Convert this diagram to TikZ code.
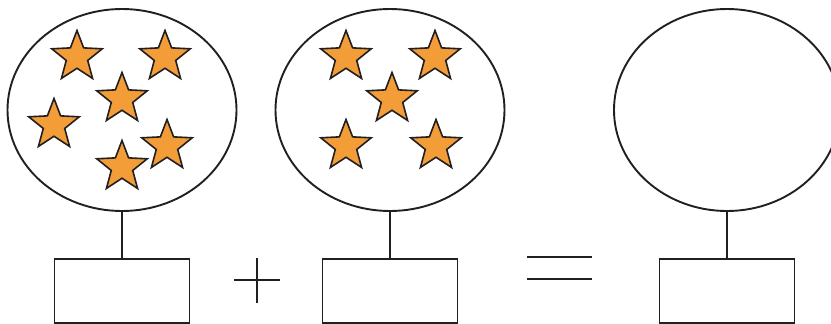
\documentclass[tikz,border=0pt]{standalone}
\usepackage{xcolor}
\usepackage{tikz}
\usetikzlibrary{shapes.geometric,positioning}
\definecolor{starfill}{HTML}{F29D38}
\definecolor{inkline}{HTML}{231F20}

\begin{document}
\begin{tikzpicture}[
  x=1pt,y=-1pt,
  bag/.style={draw=inkline,line width=1.9pt,ellipse,inner sep=0pt,
              minimum width=229pt,minimum height=202pt},
  tag/.style={draw=inkline,line width=1.9pt,inner sep=0pt,
              minimum width=135pt,minimum height=64pt},
  pip/.style={star,star points=5,star point ratio=2.35,draw=inkline,
              line width=1.6pt,fill=starfill,inner sep=0pt,minimum size=53pt},
  stem/.style={inkline,line width=1.9pt},
  sym/.style={inkline,line width=1.7pt},
  node distance=46pt]
\clip (0,0) rectangle (831,324);
\node[bag] (bagA) at (122,110) {};
\node[bag] (bagB) at (390,110) {};
\node[bag,minimum width=226pt] (bagC) at (727,110) {};
\node[tag,below=of bagA] (tagA) {};
\node[tag,below=of bagB] (tagB) {};
\node[tag,below=of bagC] (tagC) {};
\draw[stem] (bagA.south)--(tagA.north);
\draw[stem] (bagB.south)--(tagB.north);
\draw[stem] (bagC.south)--(tagC.north);
% stars, first bag
\node[pip] (a1) at (77,57) {};
\node[pip] (a2) at (165,57) {};
\node[pip] (a3) at (122,99) {};
\node[pip] (a4) at (54,125) {};
\node[pip] (a5) at (167,146) {};
\node[pip] (a6) at (122,167) {};
% stars, second bag
\node[pip] (b1) at (346,57) {};
\node[pip] (b2) at (435,57) {};
\node[pip] (b3) at (392,99) {};
\node[pip] (b4) at (346,146) {};
\node[pip] (b5) at (436,146) {};
% plus and equals
\coordinate (plus) at (257,280);
\draw[sym] ([xshift=-23pt]plus)--([xshift=23pt]plus);
\draw[sym] ([yshift=-23pt]plus)--([yshift=22pt]plus);
\coordinate (eqA) at (527,257);
\coordinate (eqB) at (527,279);
\draw[sym] (eqA)--++(65,0);
\draw[sym] (eqB)--++(65,0);
\end{tikzpicture}
\end{document}
